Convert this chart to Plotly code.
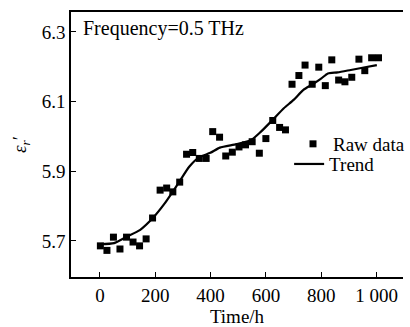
import plotly.graph_objects as go

# Raw data
raw_time = [1.8, 25.5, 49, 72.6, 96.3, 119.8, 143.4, 167.1, 190.4, 217.7,
            241.4, 263.7, 288.5, 313.3, 335.6, 359.3, 384.1, 407.8, 432.6, 454.9,
            478.6, 502.8, 526.4, 550.4, 576.3, 600, 624.8, 649.6, 670.8, 694.5,
            719.3, 741.6, 767.4, 791.2, 814.8, 838.2, 863, 885.7, 910.4, 936.3,
            957.5, 982.3, 1007]
raw_eps = [5.686, 5.673, 5.711, 5.677, 5.711, 5.697, 5.686, 5.706, 5.766, 5.846,
           5.852, 5.841, 5.869, 5.949, 5.954, 5.937, 5.937, 6.014, 5.998, 5.944,
           5.955, 5.970, 5.976, 5.985, 5.952, 5.994, 6.046, 6.026, 6.019, 6.150,
           6.175, 6.205, 6.150, 6.199, 6.146, 6.220, 6.162, 6.157, 6.170, 6.222,
           6.189, 6.226, 6.226]

# Trend
trend_time = [1.8, 51.3, 96.3, 145.8, 190.4, 234.3, 263.7, 289.6, 322.8, 358.2,
              399.3, 433.6, 493.8, 546.9, 582.3, 623.7, 664.8, 700.2, 735.6, 768.8,
              800.7, 824.1, 859.5, 906.9, 954.0, 1001]
trend_eps = [5.691, 5.694, 5.712, 5.732, 5.765, 5.808, 5.842, 5.873, 5.913, 5.940,
             5.953, 5.968, 5.978, 5.990, 6.014, 6.047, 6.081, 6.105, 6.134, 6.150,
             6.167, 6.181, 6.184, 6.191, 6.198, 6.205]

x_ticks = [0, 200, 400, 600, 800, 1000]
x_ticktext = ["0", "200", "400", "600", "800", "1 000"]
y_ticks = [5.7, 5.9, 6.1, 6.3]
y_ticktext = ["5.7", "5.9", "6.1", "6.3"]

FONT = "Liberation Serif, Times New Roman, serif"
FS = 19

fig = go.Figure()
fig.add_trace(go.Scatter(
    x=raw_time, y=raw_eps, mode="markers", name="Raw data",
    marker=dict(symbol="square", size=7, color="black"),
    legend="legend",
))
fig.add_trace(go.Scatter(
    x=trend_time, y=trend_eps, mode="lines", name="Trend",
    line=dict(color="black", width=2.2, shape="spline", smoothing=0.6),
    legend="legend2",
))

fig.update_layout(
    width=410, height=327,
    margin=dict(l=71, r=0, t=12, b=50),
    paper_bgcolor="white", plot_bgcolor="white",
    font=dict(family=FONT, size=FS, color="black"),
    showlegend=True,
    legend=dict(x=0.669, y=0.502, xanchor="left", yanchor="middle",
                bgcolor="rgba(0,0,0,0)", font=dict(size=FS, family=FONT),
                borderwidth=0),
    legend2=dict(x=0.657, y=0.426, xanchor="left", yanchor="middle",
                 bgcolor="rgba(0,0,0,0)", font=dict(size=FS, family=FONT),
                 borderwidth=0),
    annotations=[dict(text="Frequency=0.5 THz", xref="paper", yref="paper",
                      x=0.030, y=0.990, xanchor="left", yanchor="top",
                      showarrow=False, font=dict(size=20, family=FONT))],
)
fig.update_xaxes(
    range=[-104.4, 1095.6], tickvals=x_ticks, ticktext=x_ticktext,
    ticks="inside", ticklen=5, tickwidth=1.2, tickcolor="black",
    showline=True, linecolor="black", linewidth=1.5, mirror=True,
    showgrid=False, zeroline=False, tickfont=dict(size=FS),
    title=dict(text="Time/h", font=dict(size=FS, family=FONT), standoff=2),
)
fig.update_yaxes(
    range=[5.5966, 6.3574], tickvals=y_ticks, ticktext=y_ticktext,
    ticks="inside", ticklen=5, tickwidth=1.2, tickcolor="black",
    showline=True, linecolor="black", linewidth=1.5, mirror=False,
    showgrid=False, zeroline=False, tickfont=dict(size=FS),
    title=dict(text="<i>ε</i><sub><i>r</i></sub>′", font=dict(size=FS, family=FONT), standoff=10),
)

fig.write_html("out.html")
